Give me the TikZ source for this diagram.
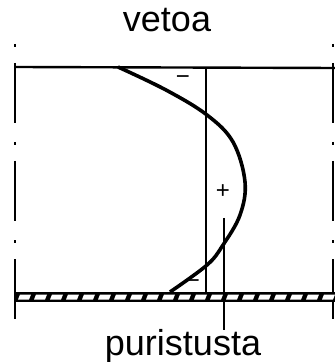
\documentclass[tikz,border=0pt]{standalone}
\usepackage{fontspec}
\setmainfont{Liberation Sans}
\usetikzlibrary{positioning}
\tikzset{
    wallline/.style={line width=1.1pt, dash pattern=on 1.5pt off 8pt on 30pt off 9.5pt},
    edgeline/.style={line width=1.2pt},
    thinline/.style={line width=0.9pt},
    momentline/.style={line width=1.8pt, line join=round},
    caption/.style={font=\fontsize{18}{20}\selectfont, inner sep=0pt, anchor=base},
    sign/.style={font=\fontsize{12}{14}\selectfont, inner sep=0pt},
}

\begin{document}
\begin{tikzpicture}[x=0.5pt, y=-0.5pt]
    \useasboundingbox (0,0) rectangle (335,362);

    % supports
    \draw[wallline] (15,44) -- (15,319);
    \draw[wallline] (333,44) -- (333,321);

    % upper edge
    \draw[edgeline] (15,67) -- (335,68);

    % slab
    \fill (15,292) rectangle (335,302);
    \foreach \x in {18,34,...,330}
        \fill[white] (\x+2,294.5) -- (\x+13,294.5) -- (\x+11,299.5) -- (\x,299.5) -- cycle;

    % axes
    \draw[thinline] (206,68) -- (206,292);
    \coordinate (neutraltop) at (224,218);

    % labels
    \node[caption] (vetoa) at (167,32) {vetoa};
    \node[caption] (puristusta) at (183,355) {puristusta};
    \draw[thinline] (neutraltop) -- (neutraltop |- 0,330);

    % moment curve
    \draw[momentline] plot[smooth, tension=0.6] coordinates {(118,67) (166,90) (207,115) (233,142) (245,182) (240,215) (223,245) (207,265) (170,292)};

    % signs
    \node[sign] (topminus) at (183,80) {−};
    \node[sign] (plus) at (223,192) {+};
    \node[sign] (bottomminus) at (193,284) {−};
\end{tikzpicture}
\end{document}
